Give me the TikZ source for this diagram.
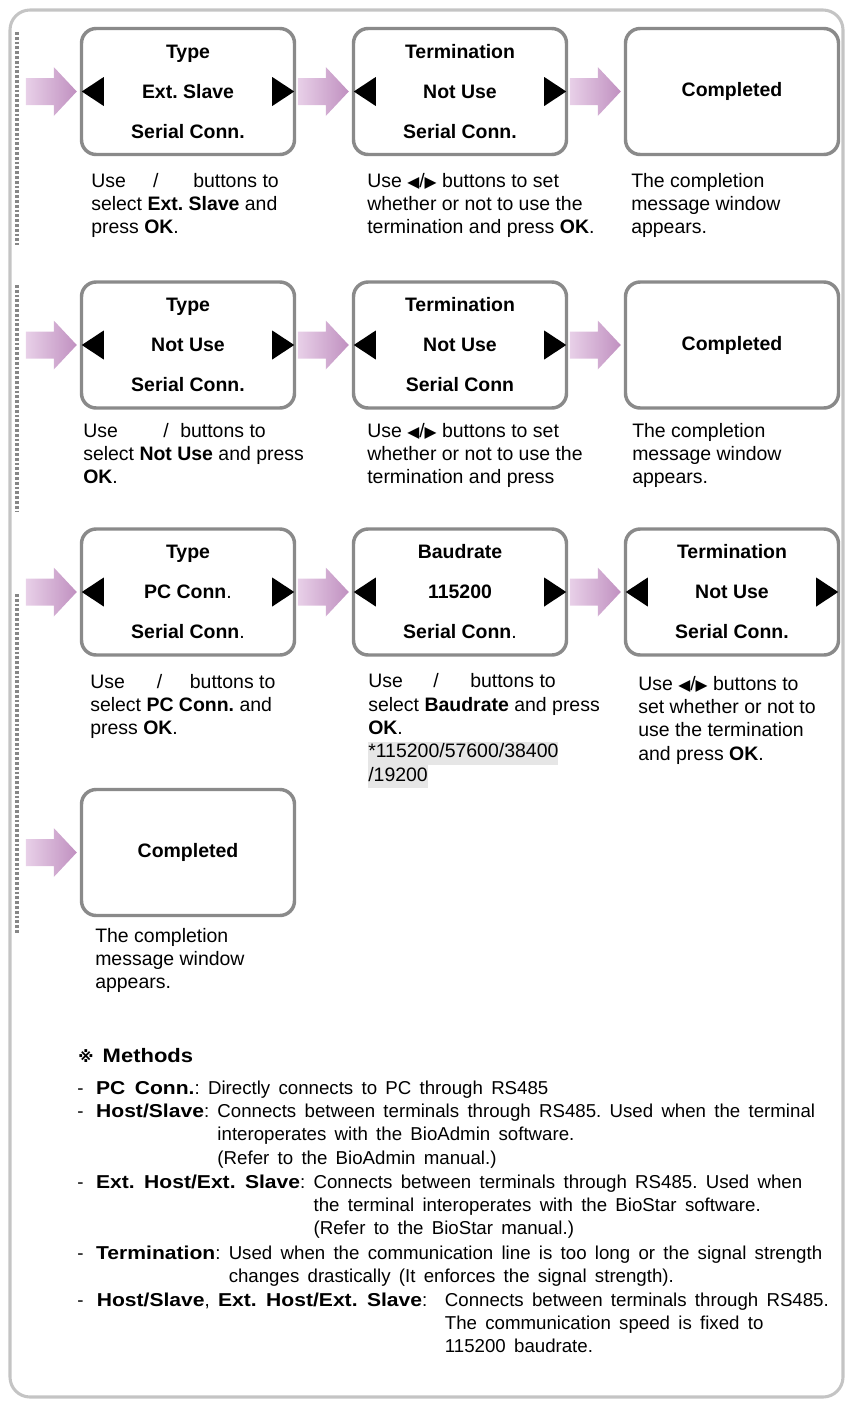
\documentclass[tikz,border=0pt]{standalone}
\usepackage{fontspec}
\setmainfont{Liberation Sans}
\newfontfamily\symfont[Scale=0.8]{DejaVu Sans}
\newfontfamily\notefont[WordSpace=1.6, BoldFeatures={FakeStretch=1.13}]{Liberation Sans}
\usetikzlibrary{positioning,calc}
\frenchspacing
\definecolor{FrameGray}{RGB}{196,196,196}
\definecolor{BoxGray}{RGB}{138,138,138}
\definecolor{DotGray}{RGB}{135,135,135}
\definecolor{ArrowLight}{RGB}{232,208,232}
\definecolor{ArrowDark}{RGB}{192,144,192}
\definecolor{HiGray}{RGB}{230,230,230}

\newcommand{\btnL}{{\symfont ◀}}
\newcommand{\btnR}{{\symfont ▶}}
\newcommand{\usegap}[2]{\makebox[#1][l]{Use}\makebox[#2][l]{/}buttons to}
\newcommand{\hlgray}[1]{{\setlength{\fboxsep}{0pt}\colorbox{HiGray}{\strut #1}}}
\newcommand{\mitem}[2]{\begin{tabular}[t]{@{}l@{\ }l@{}}-\hspace{9.5pt}\textbf{#1}: & #2\end{tabular}}
% black select triangles inside a screen
\newcommand{\selarrows}[1]{%
  \fill ($(#1.west)+(2,0)$) -- ++(22,-14.5) -- ++(0,29) -- cycle;
  \fill ($(#1.east)+(-2,0)$) -- ++(-22,-14.5) -- ++(0,29) -- cycle;}
% pink block arrow pointing at a screen
\newcommand{\pinkarrow}[1]{%
  \shade[left color=ArrowLight, right color=ArrowDark]
    ($(#1.west)+(-3,0)$) -- ++(-23,-24.5) -- ++(0,11) -- ++(-28,0)
    -- ++(0,27) -- ++(28,0) -- ++(0,11) -- cycle;}

\begin{document}
\begin{tikzpicture}[x=0.75pt, y=-0.75pt,
    screen/.style={draw=BoxGray, line width=2.6pt, rounded corners=11pt, fill=white,
      minimum width=159.75pt, minimum height=94.5pt, align=center,
      font=\fontsize{14.6}{30}\selectfont\bfseries},
    % desc nodes sit on the baseline of their last line
    desc/.style={anchor=base west, align=left, inner sep=0pt,
      font=\fontsize{14.6}{17.5}\selectfont},
    note/.style={anchor=base west, inner sep=0pt,
      font=\notefont\fontsize{14}{17.6}\selectfont},
    dotline/.style={DotGray, line width=2.6pt, dash pattern=on 2.1pt off 1.5pt}
  ]
  \useasboundingbox (0,0) rectangle (846,1403);
  \draw[FrameGray, line width=2.3pt, rounded corners=15pt] (10,10) rectangle (843,1397);

  % dotted guides
  \draw[dotline] (17,32) -- (17,245);
  \draw[dotline] (17,285) -- (17,512);
  \draw[dotline] (17,594) -- (17,933);

  % row 1: Ext. Slave
  \node[screen] (type1) at (188,91.5) {Type\\Ext. Slave\\Serial Conn.};
  \node[screen] (term1) at (460,91.5) {Termination\\Not Use\\Serial Conn.};
  \node[screen] (done1) at (732,91.5) {Completed};
  \selarrows{type1} \selarrows{term1}
  \pinkarrow{type1} \pinkarrow{term1} \pinkarrow{done1}
  \node[desc] (use1) at (91,233.7) {\usegap{46.5pt}{30pt}\\select \textbf{Ext. Slave} and\\press \textbf{OK}.};
  \node[desc] (set1) at (367,233.7) {Use \btnL/\btnR\ buttons to set\\whether or not to use the\\termination and press \textbf{OK}.};
  \node[desc] (msg1) at (631,233.7) {The completion\\message window\\appears.};

  % row 2: Not Use
  \node[screen] (type2) at (188,345) {Type\\Not Use\\Serial Conn.};
  \node[screen] (term2) at (460,345) {Termination\\Not Use\\Serial Conn};
  \node[screen] (done2) at (732,345) {Completed};
  \selarrows{type2} \selarrows{term2}
  \pinkarrow{type2} \pinkarrow{term2} \pinkarrow{done2}
  \node[desc] (use2) at (83,483.7) {\usegap{60pt}{12.75pt}\\select \textbf{Not Use} and press\\\textbf{OK}.};
  \node[desc] (set2) at (367,483.7) {Use \btnL/\btnR\ buttons to set\\whether or not to use the\\termination and press};
  \node[desc] (msg2) at (632,483.7) {The completion\\message window\\appears.};

  % row 3: PC Conn.
  \node[screen] (type3) at (188,592) {Type\\PC Conn{\mdseries .}\\Serial Conn{\mdseries .}};
  \node[screen] (baud3) at (460,592) {Baudrate\\115200\\Serial Conn{\mdseries .}};
  \node[screen] (term3) at (732,592) {Termination\\Not Use\\Serial Conn.};
  \selarrows{type3} \selarrows{baud3} \selarrows{term3}
  \pinkarrow{type3} \pinkarrow{baud3} \pinkarrow{term3}
  \node[desc] (use3) at (90,734.7) {\usegap{50pt}{24.75pt}\\select \textbf{PC Conn.} and\\press \textbf{OK}.};
  \node[desc] (rate3) at (368,781.3) {\usegap{48.75pt}{27.75pt}\\select \textbf{Baudrate} and press\\\textbf{OK}.\\\hlgray{*115200/57600/38400}\\\hlgray{/19200}};
  \node[desc] (set3) at (638,760) {Use \btnL/\btnR\ buttons to\\set whether or not to\\use the termination\\and press \textbf{OK}.};

  % row 4: completed
  \node[screen] (done4) at (188,852.5) {Completed};
  \pinkarrow{done4}
  \node[desc] (msg4) at (95,988.7) {The completion\\message window\\appears.};

  % methods
  \node[anchor=base west, inner sep=0pt, font=\notefont\fontsize{14.6}{18}\selectfont\bfseries]
    (meth) at (78,1062) {{\symfont ※}\hspace{7pt}Methods};
  \node[note] (pcconn) at (77,1094) {\mitem{PC Conn.}{Directly connects to PC through RS485}};
  \node[note] (hostsl) at (77,1117.5) {\mitem{Host/Slave}{Connects between terminals through RS485. Used when the terminal\\ & interoperates with the BioAdmin software.\\ & (Refer to the BioAdmin manual.)}};
  \node[note] (exths) at (77,1188) {\mitem{Ext. Host/Ext. Slave}{Connects between terminals through RS485. Used when\\ & the terminal interoperates with the BioStar software.\\ & (Refer to the BioStar manual.)}};
  \node[note] (termin) at (77,1259) {\mitem{Termination}{Used when the communication line is too long or the signal strength\\ & changes drastically (It enforces the signal strength).}};
  \node[note] (fixed) at (77,1306) {\begin{tabular}[t]{@{}l@{\ }l@{}}-\hspace{10pt}\textbf{Host/Slave}, \textbf{Ext. Host/Ext. Slave}:\hspace{7pt} & Connects between terminals through RS485.\\ & The communication speed is fixed to\\ & 115200 baudrate.\end{tabular}};
\end{tikzpicture}
\end{document}
